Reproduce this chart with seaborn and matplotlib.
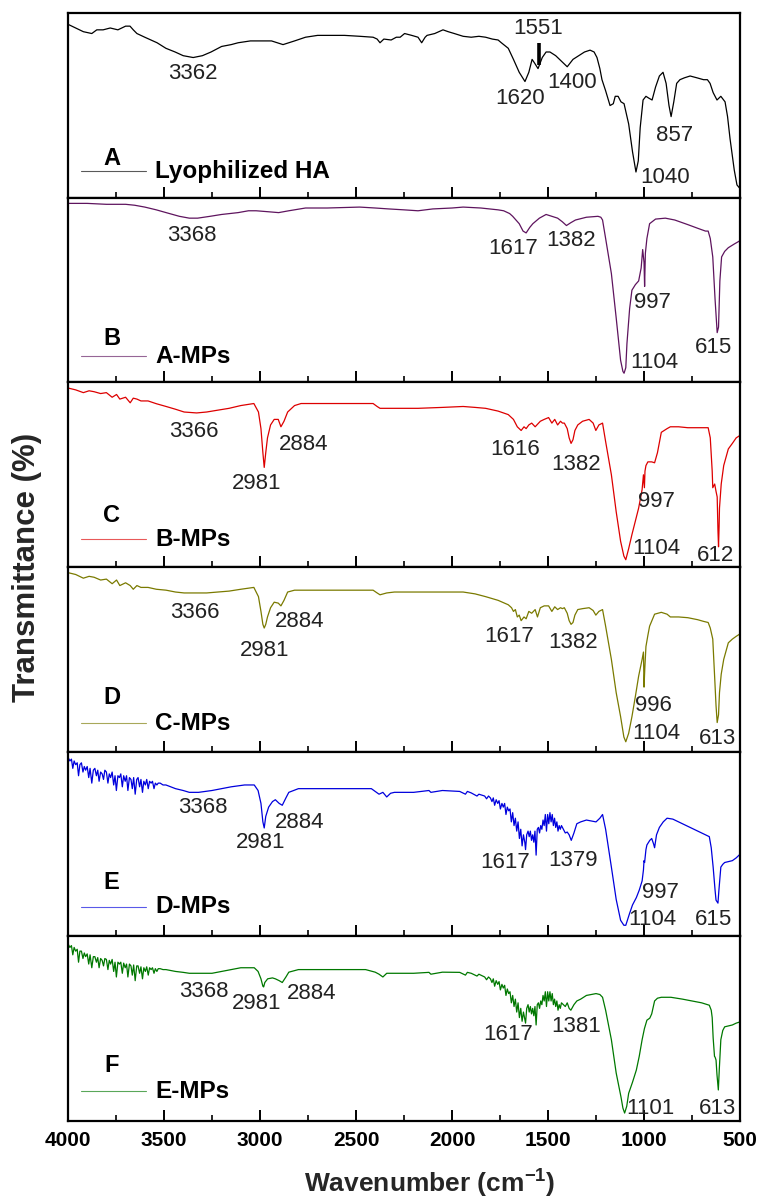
import matplotlib
matplotlib.use("Agg")
import matplotlib.pyplot as plt
import pandas as pd
import seaborn as sns
from matplotlib.ticker import MultipleLocator
from matplotlib.transforms import blended_transform_factory

sns.set_theme(style="ticks")
plt.rcParams['font.family'] = ['Liberation Sans', 'DejaVu Sans']

# ---------------- data: (wavenumber cm-1, transmittance a.u.) ----------------
spec_A = [(4000, 94), (3960, 92), (3920, 90), (3876, 89), (3850, 91), (3817, 91), (3780, 92),
          (3740, 91), (3700, 93), (3677, 93), (3660, 91), (3641, 89), (3600, 87), (3536, 84),
          (3490, 81), (3442, 79), (3400, 77), (3348, 76), (3300, 77), (3255, 79), (3200, 82),
          (3150, 83), (3114, 84), (3050, 85), (2997, 85), (2940, 85), (2880, 83), (2820, 85),
          (2763, 87), (2700, 88), (2645, 88), (2560, 88), (2480, 87.5), (2411, 87), (2390, 86),
          (2375, 84), (2355, 86), (2317, 85.5), (2290, 87), (2270, 87), (2247, 89), (2210, 88),
          (2177, 87), (2158, 84), (2140, 87), (2130, 88), (2090, 89), (2047, 91), (2020, 90),
          (1988, 89), (1942, 87.5), (1900, 87), (1860, 87.5), (1825, 87), (1790, 86),
          (1760, 85.5), (1743, 84), (1707, 81), (1680, 75), (1650, 68), (1620, 63), (1600, 68),
          (1583, 75), (1570, 73), (1552, 70), (1530, 76), (1510, 79), (1490, 79), (1460, 77),
          (1430, 74), (1400, 71), (1370, 75), (1340, 77), (1310, 79), (1281, 80), (1260, 79),
          (1245, 76), (1230, 70), (1219, 64), (1200, 58), (1177, 50), (1160, 51), (1150, 55),
          (1135, 55), (1120, 52), (1104, 51), (1080, 40), (1060, 25), (1042, 14), (1030, 20),
          (1020, 38), (1005, 53), (990, 55), (975, 54), (958, 53), (940, 60), (920, 66),
          (901, 68), (885, 62), (870, 50), (859, 44), (845, 52), (830, 62), (813, 64),
          (790, 65), (760, 66), (724, 65), (690, 64), (670, 64), (656, 62), (640, 57),
          (620, 53), (600, 55), (578, 52), (565, 44), (552, 32), (530, 15), (516, 7), (500, 5)]

spec_B = [(4000, 97), (3900, 97), (3800, 96.5), (3700, 96.5), (3653, 96), (3600, 95),
          (3540, 93.5), (3489, 92), (3420, 90), (3368, 89), (3325, 89), (3260, 90), (3200, 91),
          (3114, 92), (3060, 93), (3020, 93), (2960, 92.5), (2903, 92), (2850, 93), (2763, 94.5),
          (2650, 94.5), (2481, 95), (2400, 94.5), (2330, 94), (2250, 93.5), (2177, 93),
          (2100, 94), (2000, 94.5), (1942, 95), (1850, 94.5), (1760, 93.5), (1731, 93),
          (1700, 91.5), (1684, 90), (1650, 86), (1630, 82), (1614, 81), (1595, 84), (1579, 86),
          (1545, 89), (1510, 91), (1480, 90), (1450, 89), (1425, 87), (1404, 85), (1382, 86.5),
          (1357, 88), (1300, 89.5), (1240, 90), (1225, 89.5), (1216, 88), (1200, 78),
          (1170, 59), (1145, 35), (1122, 12), (1110, 6), (1104, 5), (1095, 8), (1089, 21),
          (1075, 40), (1063, 50), (1045, 53), (1028, 55), (1015, 62), (1007, 72), (1000, 65),
          (997, 52), (993, 70), (985, 78), (971, 86), (940, 88.5), (889, 89), (840, 88),
          (772, 85.5), (720, 83.5), (680, 82), (666, 82), (655, 78), (642, 68), (630, 45),
          (619, 27), (612, 30), (605, 55), (596, 68), (580, 71), (561, 73), (530, 75),
          (505, 76.5), (500, 77)]

spec_C = [(4000, 97), (3960, 96), (3920, 94.5), (3890, 95.5), (3864, 95), (3830, 94),
          (3800, 94.5), (3770, 92), (3747, 93.5), (3730, 91), (3700, 92), (3676, 89),
          (3660, 91.5), (3641, 91), (3620, 90), (3583, 90), (3540, 88.5), (3489, 87),
          (3440, 85.5), (3395, 84), (3330, 83.5), (3278, 84), (3220, 85), (3161, 86),
          (3100, 87.5), (3032, 88.6), (3008, 84), (2995, 75), (2985, 62), (2978, 54),
          (2970, 62), (2961, 70), (2945, 77), (2926, 80), (2905, 80), (2891, 76), (2875, 79),
          (2856, 84), (2820, 87.5), (2786, 88.6), (2600, 88.6), (2411, 88.6), (2390, 87),
          (2375, 86), (2300, 86), (2177, 86), (2050, 86.5), (1942, 87), (1880, 86.5),
          (1825, 86), (1760, 84.5), (1707, 82.6), (1680, 80), (1660, 76), (1640, 74),
          (1625, 76), (1614, 75), (1600, 77), (1585, 78), (1567, 76), (1540, 79), (1520, 80),
          (1497, 81), (1480, 78), (1465, 80), (1450, 77), (1435, 79), (1425, 78), (1415, 78),
          (1400, 75), (1390, 70), (1380, 67), (1370, 69), (1360, 74), (1345, 77), (1320, 79),
          (1286, 80), (1265, 78), (1251, 74), (1235, 77), (1216, 78), (1200, 68), (1170, 50),
          (1145, 30), (1122, 14), (1105, 6), (1095, 4), (1080, 10), (1063, 17.6), (1045, 25),
          (1028, 32), (1010, 42), (1003, 50), (998, 43), (995, 52), (990, 55), (980, 57),
          (960, 57), (945, 56.5), (930, 62), (910, 73), (880, 75), (863, 76), (820, 76),
          (772, 75.5), (720, 75.5), (666, 75.5), (655, 70), (645, 52), (642, 43), (632, 45),
          (625, 41), (619, 38), (615, 20), (612, 11), (609, 22), (607, 32), (598, 45),
          (585, 55), (561, 64), (540, 67), (520, 70), (505, 71), (500, 71.5)]

spec_D = [(4000, 97), (3960, 96), (3920, 94), (3890, 95), (3864, 94.5), (3830, 93),
          (3800, 93.5), (3770, 91), (3747, 93), (3730, 90), (3700, 91.5), (3676, 90),
          (3660, 88), (3641, 90), (3620, 89), (3583, 89), (3540, 88), (3489, 87.5),
          (3440, 86.5), (3395, 86), (3330, 86), (3278, 86), (3220, 86.5), (3161, 87),
          (3100, 88), (3032, 89), (3008, 84), (2995, 76), (2985, 69), (2978, 67), (2970, 69),
          (2961, 73), (2945, 78), (2926, 81), (2905, 80.5), (2891, 79), (2875, 82),
          (2856, 86.5), (2820, 87.5), (2786, 87.5), (2600, 87.5), (2411, 87.5), (2390, 86),
          (2375, 85), (2340, 86), (2300, 86.5), (2177, 86.5), (2050, 86.5), (1942, 86.5),
          (1880, 85.5), (1825, 84), (1760, 82), (1707, 79.6), (1690, 78), (1680, 76),
          (1670, 77), (1660, 73), (1650, 74), (1640, 71), (1625, 73), (1614, 72), (1600, 76),
          (1585, 75), (1567, 77), (1555, 73), (1540, 78), (1520, 79), (1497, 79), (1480, 76),
          (1465, 78.5), (1450, 77), (1435, 78), (1425, 77.5), (1415, 78), (1400, 75),
          (1390, 71), (1380, 69), (1370, 70), (1360, 74), (1345, 77), (1320, 77.5), (1286, 78),
          (1265, 76.5), (1251, 74), (1235, 76), (1216, 77), (1200, 68), (1170, 50), (1145, 32),
          (1122, 19), (1105, 8), (1095, 5.4), (1080, 10), (1063, 19), (1045, 30), (1028, 41),
          (1010, 50), (1003, 54), (1000, 35), (996, 45), (990, 57), (980, 63), (971, 68),
          (945, 74.5), (910, 75.5), (880, 74.5), (863, 73), (820, 73), (772, 72.6),
          (720, 71.5), (690, 70.6), (666, 70), (655, 67), (642, 61), (632, 40), (625, 25),
          (619, 15.8), (612, 20), (607, 32), (598, 42), (585, 50), (561, 59), (540, 61),
          (520, 62.5), (505, 63.5), (500, 64)]

spec_E = [(4000, 97), (3990, 95), (3982, 96), (3975, 91), (3968, 95), (3960, 93), (3952, 94),
          (3945, 87), (3938, 93), (3930, 94), (3922, 89), (3915, 92), (3908, 90), (3900, 92),
          (3892, 86), (3885, 91), (3876, 83), (3868, 90), (3860, 91), (3852, 87), (3845, 90),
          (3838, 84), (3830, 89), (3822, 88), (3815, 85), (3808, 90), (3800, 89), (3792, 83),
          (3785, 88), (3778, 86), (3770, 89), (3762, 82), (3755, 87), (3748, 79), (3740, 87),
          (3732, 86), (3725, 88), (3717, 81), (3710, 87), (3702, 84), (3695, 87), (3688, 79),
          (3680, 86), (3672, 85), (3665, 80), (3658, 86), (3650, 77), (3642, 85), (3635, 86),
          (3627, 81), (3620, 85), (3612, 78), (3605, 84), (3597, 82), (3590, 85), (3582, 80),
          (3575, 84), (3567, 83), (3560, 84), (3552, 80), (3545, 83), (3537, 82), (3530, 83),
          (3520, 83), (3505, 82), (3490, 82), (3440, 80), (3400, 79), (3368, 78), (3320, 78),
          (3250, 79), (3150, 81), (3080, 82), (3030, 82), (3010, 79), (2995, 72), (2985, 62),
          (2978, 58.7), (2970, 65), (2955, 70), (2935, 73), (2920, 74), (2900, 72), (2884, 71),
          (2865, 75), (2850, 78), (2800, 80), (2600, 80), (2420, 80), (2400, 78.5), (2380, 77),
          (2360, 78), (2340, 75.5), (2320, 77.5), (2300, 78), (2200, 78), (2120, 79),
          (2110, 78), (2050, 79), (1960, 78.5), (1930, 77), (1920, 78.5), (1900, 77.7),
          (1870, 76), (1860, 77), (1830, 76), (1820, 74.5), (1810, 76), (1800, 75),
          (1792, 73), (1785, 75), (1778, 71), (1770, 74), (1762, 72), (1755, 73.5), (1748, 69),
          (1740, 72), (1733, 70), (1726, 72), (1719, 66), (1712, 70), (1705, 68), (1698, 69),
          (1691, 62), (1684, 67), (1677, 60), (1670, 64), (1663, 57), (1656, 62), (1649, 53),
          (1642, 58), (1635, 49), (1628, 55), (1621, 51), (1617, 47), (1611, 55), (1604, 57),
          (1598, 54), (1592, 57), (1586, 52), (1580, 55), (1574, 51), (1568, 57), (1562, 44),
          (1556, 58), (1550, 59), (1544, 56), (1538, 60), (1532, 58), (1526, 63), (1520, 60),
          (1514, 66), (1508, 57), (1502, 66), (1496, 61), (1490, 67), (1484, 62), (1478, 66),
          (1472, 60), (1466, 64), (1460, 59), (1454, 62), (1448, 57), (1442, 60), (1436, 58),
          (1430, 60), (1420, 58), (1410, 56), (1400, 56.5), (1390, 55), (1379, 52), (1365, 56),
          (1350, 61), (1330, 62), (1300, 63), (1275, 62.5), (1250, 62), (1230, 64), (1216, 66),
          (1200, 58), (1170, 37.5), (1145, 20), (1122, 8.7), (1105, 6), (1095, 6),
          (1075, 12.5), (1060, 17), (1040, 21), (1025, 25), (1010, 30), (1003, 36), (1000, 41),
          (997, 40), (990, 47), (985, 49.5), (970, 52), (960, 53), (950, 50), (945, 48),
          (935, 55), (920, 59), (900, 62), (880, 64), (850, 63.5), (800, 61), (750, 58.5),
          (700, 56), (680, 55), (660, 54), (650, 48), (640, 37.5), (630, 25), (625, 19.6),
          (615, 18), (610, 25), (600, 37.5), (590, 39), (580, 40), (560, 40.5), (540, 41),
          (520, 42.5), (505, 44), (500, 44.5)]

spec_F = [(4000, 96), (3990, 94), (3982, 95), (3975, 90), (3968, 94), (3960, 92), (3952, 93),
          (3945, 86), (3938, 92), (3930, 92), (3922, 88), (3915, 91), (3908, 89), (3900, 90.5),
          (3892, 85), (3885, 90), (3876, 83), (3868, 89), (3860, 89), (3852, 86), (3845, 88.5),
          (3838, 83), (3830, 88), (3822, 87), (3815, 84), (3808, 88), (3800, 87.5), (3792, 82),
          (3785, 87), (3778, 85), (3770, 87.5), (3762, 81), (3755, 86), (3748, 78), (3740, 86),
          (3732, 85), (3725, 86), (3717, 80), (3710, 85.5), (3702, 83), (3695, 85), (3688, 78),
          (3680, 85), (3672, 84), (3665, 79), (3658, 84.5), (3650, 76), (3642, 84), (3635, 84),
          (3627, 80), (3620, 83.5), (3612, 77), (3605, 83), (3597, 81), (3590, 83.5),
          (3582, 79), (3575, 83), (3567, 82), (3560, 83), (3552, 80), (3545, 82.5), (3537, 81),
          (3530, 82.5), (3520, 82.5), (3505, 82), (3490, 82), (3440, 81), (3400, 80.5),
          (3368, 80), (3300, 80), (3250, 80), (3150, 82), (3100, 83), (3030, 83), (3010, 81),
          (2995, 77), (2985, 73), (2981, 72.6), (2975, 75), (2960, 77), (2935, 77.5),
          (2920, 77), (2900, 76), (2884, 75), (2865, 78), (2850, 80.6), (2800, 82), (2450, 82),
          (2400, 80.6), (2380, 79.5), (2360, 78), (2340, 80), (2320, 80), (2200, 80),
          (2120, 80.5), (2110, 79.5), (2050, 80.6), (1960, 80.5), (1930, 79), (1920, 80.5),
          (1900, 80), (1870, 78.5), (1860, 79.5), (1830, 78), (1820, 76.5), (1810, 78),
          (1800, 77), (1792, 75), (1785, 77), (1778, 73), (1770, 76), (1762, 74), (1755, 75.5),
          (1748, 71), (1740, 74), (1733, 72), (1726, 73.5), (1719, 68), (1712, 71.5),
          (1705, 69), (1698, 70), (1691, 64), (1684, 68), (1677, 62), (1670, 66), (1663, 59),
          (1656, 64), (1649, 56), (1642, 61), (1635, 54), (1628, 59), (1621, 55), (1617, 53),
          (1611, 61), (1604, 63), (1598, 59), (1592, 62), (1586, 58), (1580, 61), (1574, 57),
          (1568, 62), (1562, 52), (1556, 63), (1550, 64), (1544, 61), (1538, 65), (1532, 63),
          (1526, 68), (1520, 65), (1514, 70), (1508, 62), (1502, 70), (1496, 65), (1490, 70),
          (1484, 65), (1478, 69), (1472, 63), (1466, 66), (1460, 62), (1454, 65), (1448, 60),
          (1442, 63), (1436, 61), (1430, 64), (1420, 63), (1410, 62), (1400, 64), (1390, 61),
          (1381, 60), (1365, 63), (1350, 65), (1330, 66), (1300, 68), (1275, 68.5), (1250, 69),
          (1230, 68.5), (1216, 67), (1200, 60), (1170, 44), (1145, 26), (1120, 13), (1110, 7),
          (1101, 4.3), (1090, 8), (1080, 15), (1060, 21), (1040, 27.6), (1025, 35), (1010, 44),
          (998, 50), (985, 54.6), (970, 55.7), (960, 58), (945, 65), (930, 66.5), (910, 67),
          (860, 67), (800, 66), (750, 65), (700, 64), (660, 62.7), (650, 60), (645, 56),
          (640, 45), (633, 35), (630, 34.6), (625, 33), (620, 25), (613, 16.8), (608, 28),
          (600, 44), (590, 49), (580, 51), (560, 51.5), (540, 52), (520, 53), (505, 53.5),
          (500, 54)]

spectra = [spec_A, spec_B, spec_C, spec_D, spec_E, spec_F]
letters = ["A", "B", "C", "D", "E", "F"]
names = ["Lyophilized HA", "A-MPs", "B-MPs", "C-MPs", "D-MPs", "E-MPs"]
colors = ["#000000", "#5e145e", "#dd0000", "#7a7a00", "#0000dd", "#007800"]

# peak labels: (text, x axes-fraction, y axes-fraction)
peak_labels = [
    [("3362", 0.186, 0.675), ("1551", 0.699, 0.919), ("1620", 0.673, 0.54),
     ("1400", 0.75, 0.626), ("857", 0.903, 0.34), ("1040", 0.888, 0.112)],
    [("3368", 0.185, 0.797), ("1617", 0.662, 0.727), ("1382", 0.749, 0.771),
     ("997", 0.87, 0.435), ("1104", 0.872, 0.11), ("615", 0.96, 0.191)],
    [("3366", 0.1875, 0.736), ("2884", 0.35, 0.666), ("2981", 0.28, 0.455),
     ("1616", 0.665, 0.639), ("1382", 0.756, 0.558), ("997", 0.876, 0.357),
     ("1104", 0.875, 0.103), ("612", 0.964, 0.065)],
    [("3366", 0.189, 0.756), ("2884", 0.344, 0.708), ("2981", 0.292, 0.551),
     ("1617", 0.656, 0.626), ("1382", 0.751, 0.589), ("996", 0.871, 0.253),
     ("1104", 0.875, 0.101), ("613", 0.966, 0.074)],
    [("3368", 0.201, 0.696), ("2884", 0.345, 0.615), ("2981", 0.286, 0.506),
     ("1617", 0.65, 0.398), ("1379", 0.751, 0.409), ("997", 0.882, 0.24),
     ("1104", 0.87, 0.089), ("615", 0.96, 0.089)],
    [("3368", 0.202, 0.704), ("2981", 0.28, 0.639), ("2884", 0.363, 0.693),
     ("1617", 0.655, 0.471), ("1381", 0.756, 0.514), ("1101", 0.866, 0.065),
     ("613", 0.966, 0.065)],
]
letter_y = [0.215, 0.24, 0.28, 0.296, 0.294, 0.30]
key_y = [0.145, 0.143, 0.152, 0.155, 0.16, 0.16]

# ---------------- figure ----------------
fig, axes = plt.subplots(6, 1, figsize=(7.63, 12.02), dpi=100, sharex=True)
fig.subplots_adjust(left=0.0891, right=0.9699, bottom=0.0674, top=0.989, hspace=0)

for i, ax in enumerate(axes):
    df = pd.DataFrame(spectra[i], columns=["wn", "T"])
    sns.lineplot(data=df, x="wn", y="T", ax=ax, color=colors[i], lw=0.9,
                 estimator=None, sort=False, legend=False)
    ax.set_xlim(4000, 500)
    ax.set_ylim(0, 100)
    ax.set_yticks([])
    ax.set_ylabel("")
    ax.set_xlabel("")
    ax.xaxis.set_major_locator(MultipleLocator(500))
    ax.xaxis.set_minor_locator(MultipleLocator(250))
    ax.tick_params(axis='x', which='major', direction='in', length=8, width=1.4,
                   top=False, bottom=True, labelbottom=(i == 5), labelsize=15, pad=7,
                   colors='black')
    ax.tick_params(axis='x', which='minor', direction='in', length=4.5, width=1.4,
                   top=False, bottom=True)
    for s in ax.spines.values():
        s.set_linewidth(1.6)
        s.set_color('black')

    # key: letter, short line, sample name
    ax.text(0.065, letter_y[i], letters[i], transform=ax.transAxes, ha='center',
            va='center', fontsize=17, fontweight='bold', color='black')
    ax.plot([0.02, 0.116], [key_y[i], key_y[i]], transform=ax.transAxes,
            color=colors[i], lw=0.8, alpha=0.65)
    ax.text(0.13, key_y[i], names[i], transform=ax.transAxes, ha='left',
            va='center', fontsize=17.5, fontweight='bold', color='black')

    for txt, xf, yf in peak_labels[i]:
        ax.text(xf, yf, txt, transform=ax.transAxes, ha='center', va='center',
                fontsize=16, color='#222222')

# marker bar for 1551 in panel A
trA = blended_transform_factory(axes[0].transData, axes[0].transAxes)
axes[0].plot([1547, 1547], [0.72, 0.84], transform=trA, color='black', lw=2.6,
             solid_capstyle='butt')

for lab in axes[5].get_xticklabels():
    lab.set_fontweight('bold')

fig.text(0.5636, 0.016, "Wavenumber (cm$^{\\mathregular{-1}}$)", ha='center', va='center',
         fontsize=19, fontweight='bold')
fig.text(0.035, 0.528, "Transmittance (%)", rotation=90, ha='center', va='center',
         fontsize=22.5, fontweight='bold')

fig.savefig("out.png", dpi=100)
